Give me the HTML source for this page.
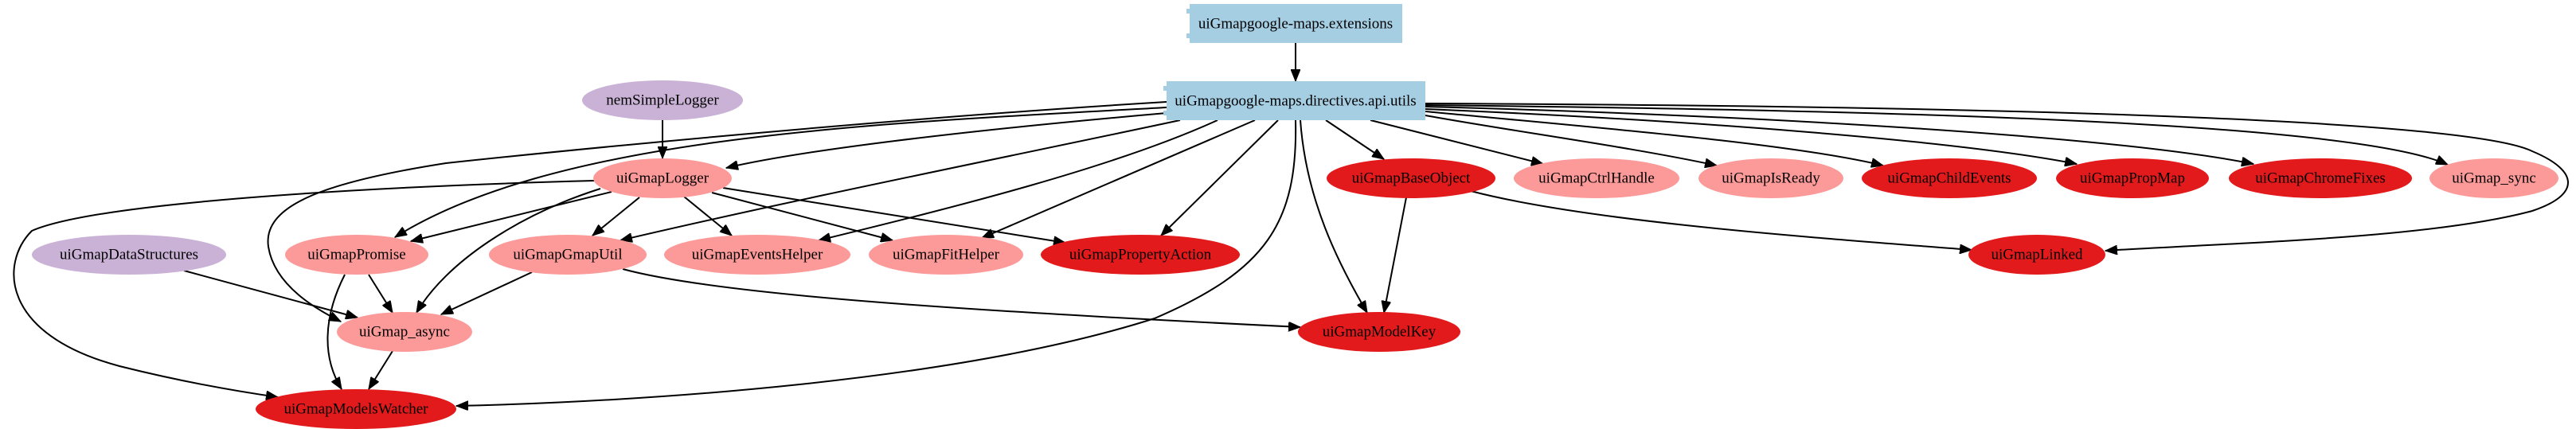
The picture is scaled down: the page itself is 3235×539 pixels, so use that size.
<!DOCTYPE html>
<html><head><meta charset="utf-8"><style>
html,body{margin:0;padding:0;background:#fff;}
svg{display:block;}
text{font-family:"Liberation Serif",serif;font-size:19px;text-anchor:middle;dominant-baseline:central;fill:#000;}
path{fill:none;stroke:#000;stroke-width:2;}
</style></head><body>
<svg width="3235" height="539" viewBox="0 0 3235 539" xmlns="http://www.w3.org/2000/svg">
<defs><marker id="a" markerUnits="userSpaceOnUse" markerWidth="16" markerHeight="12" refX="15" refY="6" orient="auto"><path d="M0,0 L15,6 L0,12 Z" style="fill:#000;stroke:#000;stroke-width:1"/></marker></defs>
<g marker-end="url(#a)">
<path d="M1627,54 L1627,102"/>
<path d="M832,151 L832,199"/>
<path d="M1465,142 C1200,165 1000,190 912,211"/>
<path d="M1465,135 C1100,155 700,170 496,298"/>
<path d="M1465,128 C1100,150 700,190 560,205 C400,230 330,260 337,310 C345,360 400,390 428,404"/>
<path d="M1482,151 C1300,190 1000,250 779,302"/>
<path d="M1529,151 C1400,210 1200,260 1028,302"/>
<path d="M1576,151 L1233,299"/>
<path d="M1605,151 L1458,296"/>
<path d="M1627,151 C1630,280 1590,340 1450,400 C1200,480 800,505 573,510"/>
<path d="M1633,151 C1640,250 1680,330 1717,393"/>
<path d="M1665,151 L1738,200"/>
<path d="M1721,151 L1938,206"/>
<path d="M1790,145 C1900,165 2050,185 2156,208"/>
<path d="M1790,140 C2000,160 2250,180 2365,208"/>
<path d="M1790,137 C2100,150 2450,175 2608,206"/>
<path d="M1790,134 C2200,145 2650,170 2830,206"/>
<path d="M1790,132 C2300,138 2950,150 3074,207"/>
<path d="M1790,130 C2500,133 3100,150 3180,190 C3240,215 3240,245 3180,265 C3050,300 2800,305 2644,315"/>
<path d="M746,227 C450,235 120,255 40,290 C0,330 0,420 150,460 C230,480 300,492 349,499"/>
<path d="M768,241 L516,303"/>
<path d="M754,237 C650,270 560,330 523,393"/>
<path d="M803,248 L744,296"/>
<path d="M859,247 L919,296"/>
<path d="M894,242 L1121,302"/>
<path d="M908,236 L1338,305"/>
<path d="M231,340 L449,399"/>
<path d="M463,345 L493,393"/>
<path d="M433,345 C405,400 405,450 429,489"/>
<path d="M668,342 L554,395"/>
<path d="M782,338 C900,370 1200,390 1633,411"/>
<path d="M493,441 L463,489"/>
<path d="M1766,248 L1738,393"/>
<path d="M1847,240 C2000,280 2300,300 2476,314"/>
</g>
<g>
<rect x="1494" y="5" width="267" height="49" fill="#a6cee3"/>
<rect x="1490" y="11" width="6" height="6" fill="#a6cee3"/><rect x="1490" y="42" width="6" height="6" fill="#a6cee3"/>
<text x="1627" y="30">uiGmapgoogle-maps.extensions</text>
<rect x="1465" y="102" width="325" height="49" fill="#a6cee3"/>
<rect x="1461" y="108" width="6" height="6" fill="#a6cee3"/><rect x="1461" y="139" width="6" height="6" fill="#a6cee3"/>
<text x="1627" y="127">uiGmapgoogle-maps.directives.api.utils</text>
</g>
<g>
<ellipse cx="832" cy="126" rx="101" ry="25" fill="#cab2d6"/><text x="832" y="126">nemSimpleLogger</text>
<ellipse cx="832" cy="224" rx="87" ry="25" fill="#fb9a99"/><text x="832" y="224">uiGmapLogger</text>
<ellipse cx="162" cy="320" rx="122" ry="25" fill="#cab2d6"/><text x="162" y="320">uiGmapDataStructures</text>
<ellipse cx="448" cy="320" rx="90" ry="25" fill="#fb9a99"/><text x="448" y="320">uiGmapPromise</text>
<ellipse cx="713" cy="320" rx="99" ry="25" fill="#fb9a99"/><text x="713" y="320">uiGmapGmapUtil</text>
<ellipse cx="951" cy="320" rx="117" ry="25" fill="#fb9a99"/><text x="951" y="320">uiGmapEventsHelper</text>
<ellipse cx="1188" cy="320" rx="97" ry="25" fill="#fb9a99"/><text x="1188" y="320">uiGmapFitHelper</text>
<ellipse cx="1432" cy="320" rx="125" ry="25" fill="#e31a1c"/><text x="1432" y="320">uiGmapPropertyAction</text>
<ellipse cx="508" cy="417" rx="85" ry="25" fill="#fb9a99"/><text x="508" y="417">uiGmap_async</text>
<ellipse cx="447" cy="514" rx="126" ry="25" fill="#e31a1c"/><text x="447" y="514">uiGmapModelsWatcher</text>
<ellipse cx="1772" cy="224" rx="106" ry="25" fill="#e31a1c"/><text x="1772" y="224">uiGmapBaseObject</text>
<ellipse cx="2005" cy="224" rx="104" ry="25" fill="#fb9a99"/><text x="2005" y="224">uiGmapCtrlHandle</text>
<ellipse cx="2224" cy="224" rx="91" ry="25" fill="#fb9a99"/><text x="2224" y="224">uiGmapIsReady</text>
<ellipse cx="2448" cy="224" rx="110" ry="25" fill="#e31a1c"/><text x="2448" y="224">uiGmapChildEvents</text>
<ellipse cx="2678" cy="224" rx="96" ry="25" fill="#e31a1c"/><text x="2678" y="224">uiGmapPropMap</text>
<ellipse cx="2914" cy="224" rx="115" ry="25" fill="#e31a1c"/><text x="2914" y="224">uiGmapChromeFixes</text>
<ellipse cx="3132" cy="224" rx="81" ry="25" fill="#fb9a99"/><text x="3132" y="224">uiGmap_sync</text>
<ellipse cx="1732" cy="417" rx="102" ry="25" fill="#e31a1c"/><text x="1732" y="417">uiGmapModelKey</text>
<ellipse cx="2558" cy="320" rx="86" ry="25" fill="#e31a1c"/><text x="2558" y="320">uiGmapLinked</text>
</g>
</svg>
</body></html>
